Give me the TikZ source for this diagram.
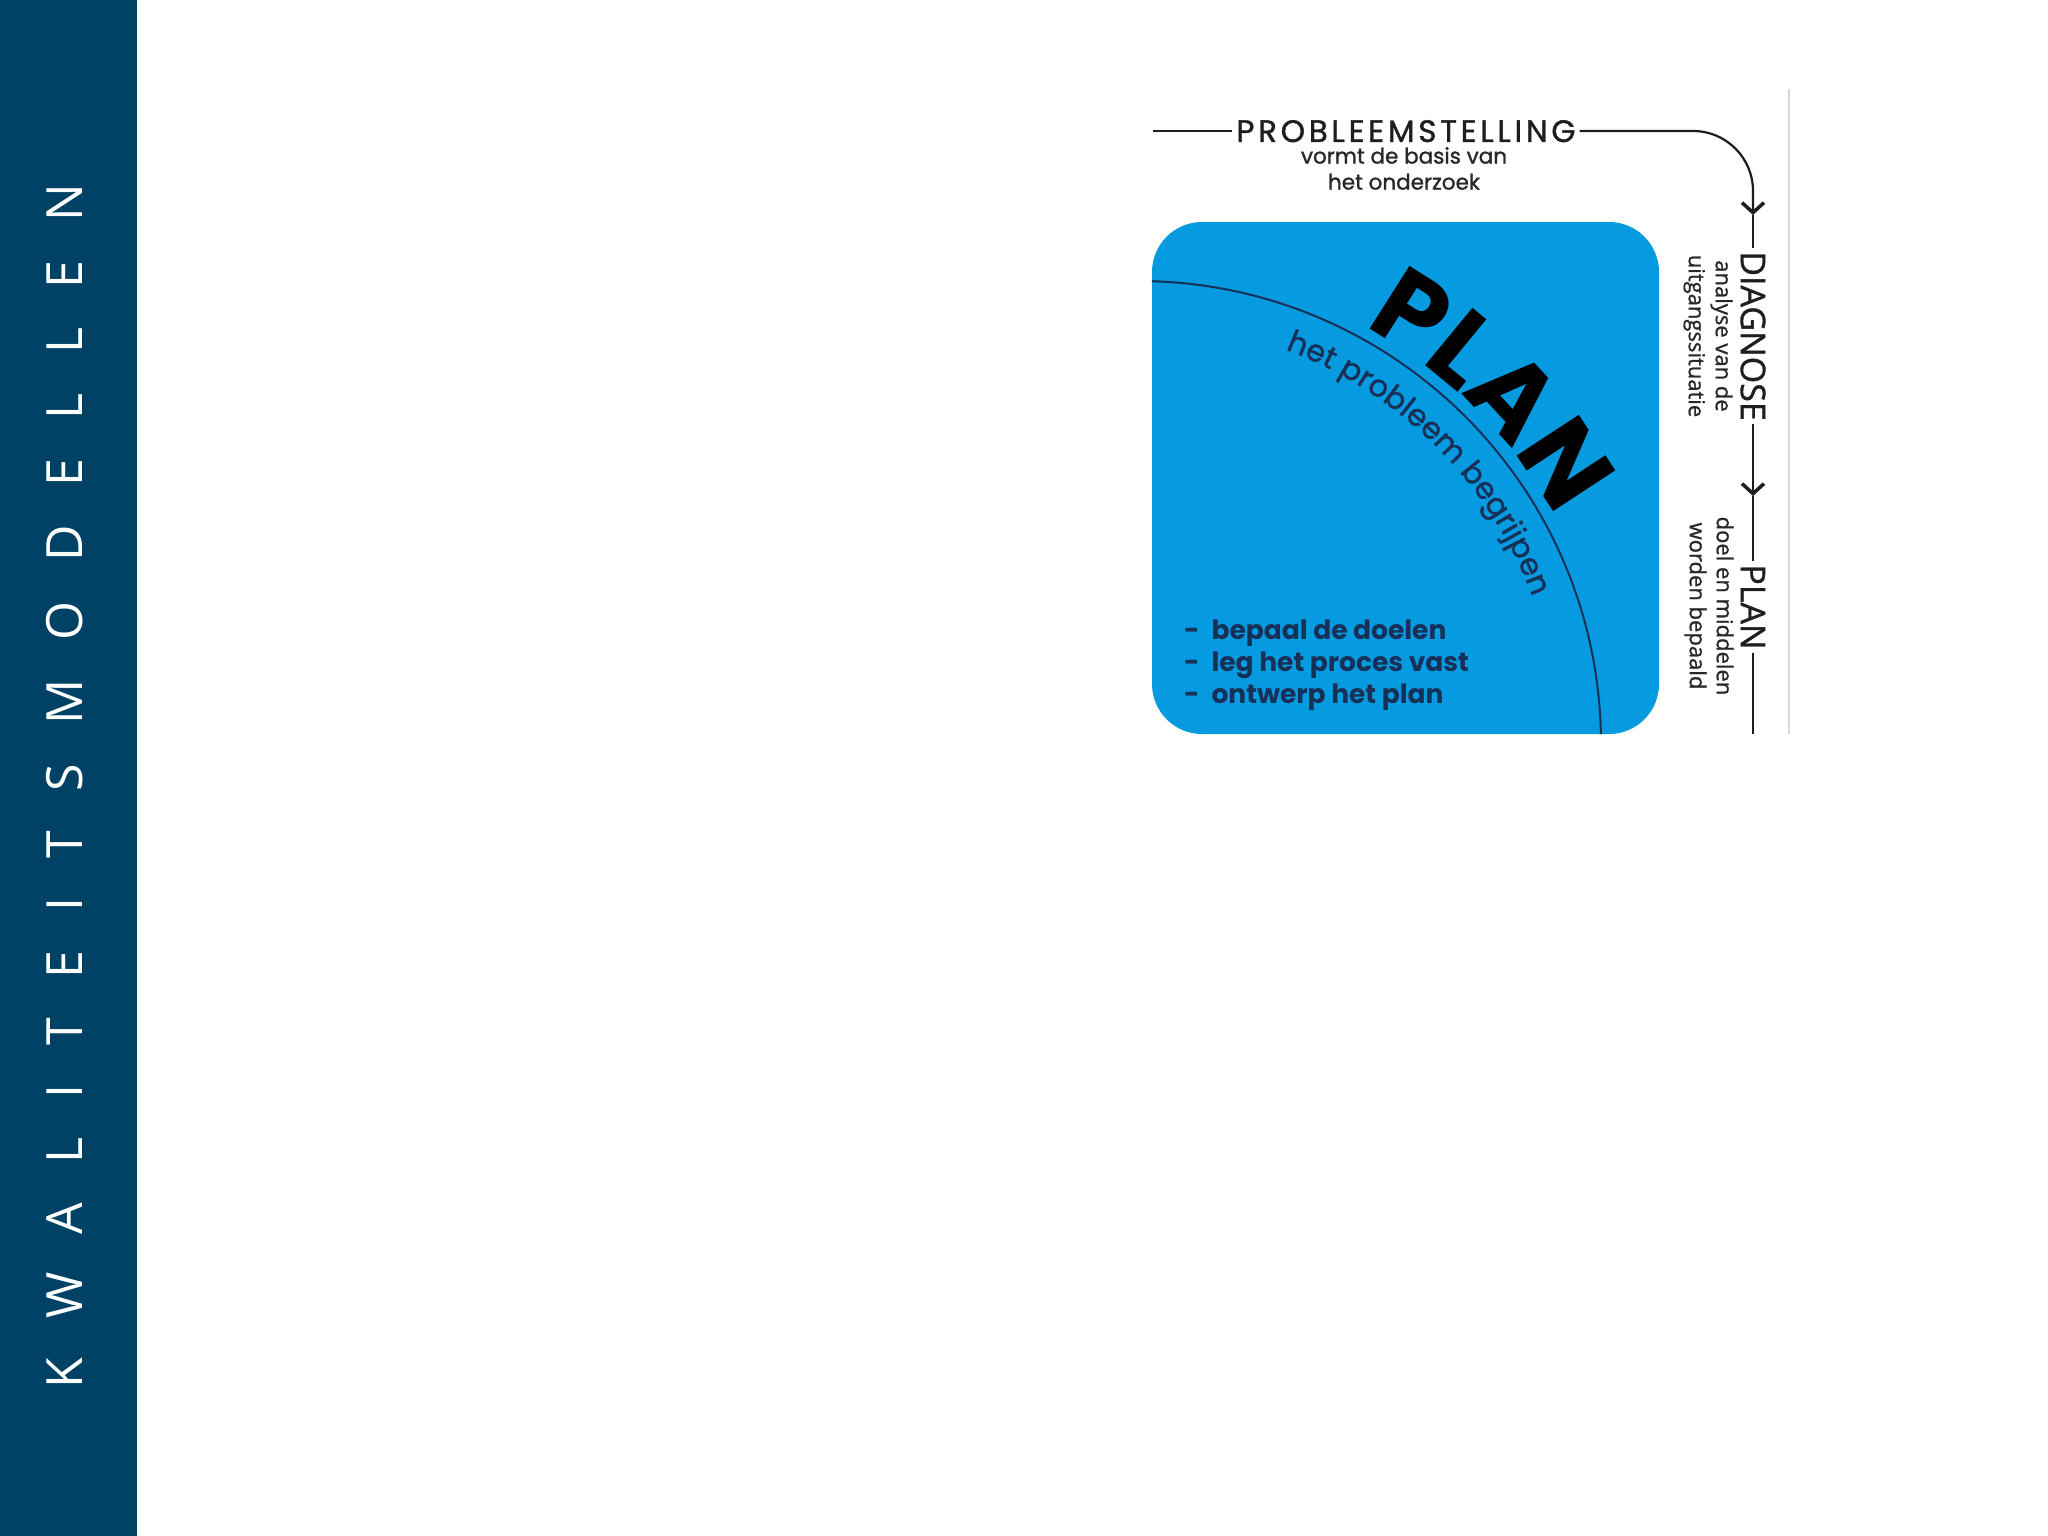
\documentclass[tikz,border=0pt]{standalone}
\usepackage{fontspec}
\setmainfont{Open Sans}
\newfontfamily\pop{Poppins}
\newfontfamily\popm{Poppins}[FakeBold=1.2]
\newfontfamily\osm{Open Sans}[FakeBold=1]
\usetikzlibrary{arrows.meta,decorations.text}
\definecolor{sidebar}{RGB}{0,66,102}
\definecolor{boxblue}{RGB}{6,155,224}
\definecolor{navytxt}{RGB}{22,48,88}
\definecolor{linegray}{RGB}{30,30,30}
\definecolor{subgray}{RGB}{40,40,40}
\definecolor{rulegray}{RGB}{215,215,215}
\begin{document}
\begin{tikzpicture}[x=1pt,y=1pt,
  conn/.style={draw=linegray, line width=2.2pt},
  tipconn/.style={conn, -{Straight Barb[length=10pt,width=22pt,line width=3.5pt]}},
  vlabel/.style={rotate=-90, inner sep=3pt, text=linegray, font=\osm\fontsize{34}{34}\selectfont},
  vsub/.style={rotate=-90, inner sep=0pt, align=center, text=subgray, font=\osm\fontsize{22}{27}\selectfont},
  bullet/.style={anchor=base west, inner sep=0pt, text=navytxt, font=\pop\bfseries\fontsize{26.5}{26.5}\selectfont}]
\useasboundingbox (0,0) rectangle (2048,-1536);
\fill[white] (0,0) rectangle (2048,-1536);
% sidebar
\fill[sidebar] (0,0) rectangle (137,-1536);
\node[rotate=90, text=white, inner sep=0pt, font=\fontsize{50}{50}\selectfont\addfontfeature{LetterSpace=78.5}] (title) at (65,-786) {KWALITEITSMODELLEN};
% blue box
\node[fill=boxblue, rounded corners=50pt, minimum width=507pt, minimum height=512pt, inner sep=0pt] (box) at (1405.5,-478) {};
\begin{scope}
\clip[rounded corners=50pt] (box.north west) rectangle (box.south east);
\draw[navytxt, line width=2pt] (1138,-744) ++(90:463) arc[start angle=90, end angle=0, radius=463];
\end{scope}
\path[decorate, decoration={text along path, text align=center, text color=black,
  text={|\pop\bfseries\fontsize{106}{106}\selectfont|PLAN}}]
  (1138,-744) ++(80:475) arc[start angle=80, end angle=10, radius=475];
\path[decorate, decoration={text along path, text align=center, text color=navytxt,
  text={|\popm\fontsize{30.5}{30.5}\selectfont|het probleem begrijpen}}]
  (1138,-744) ++(80:421) arc[start angle=80, end angle=10, radius=421];
% bullets
\node[bullet] (b1) at (1184,-639) {-\hspace{12pt}bepaal de doelen};
\node[bullet] (b2) at (1184,-671) {-\hspace{12pt}leg het proces vast};
\node[bullet] (b3) at (1184,-703) {-\hspace{12pt}ontwerp het plan};
% top label
\coordinate (start) at (1153,-131);
\node[anchor=base, inner sep=4pt, text=linegray, font=\popm\fontsize{31}{31}\selectfont\addfontfeature{LetterSpace=12}] (prob) at (1406,-142) {PROBLEEMSTELLING};
\node[anchor=north, align=center, inner sep=0pt, text=subgray, font=\popm\fontsize{21.5}{26}\selectfont] (probsub) at (1404,-147) {vormt de basis van\\het onderzoek};
% right labels
\node[vlabel] (diag) at (1753,-336) {DIAGNOSE};
\node[vsub] (diagsub) at (1708,-336) {analyse van de\\uitgangssituatie};
\node[vlabel] (plan2) at (1753,-607) {PLAN};
\node[vsub] (plansub) at (1709,-606) {doel en middelen\\worden bepaald};
% connectors
\draw[conn] (start) -- (start -| prob.west);
\coordinate (tip1) at (1753,-215);
\draw[tipconn, rounded corners=60pt] (start -| prob.east) -| (tip1);
\draw[conn] (tip1) -- (diag.west);
\coordinate (tip2) at (1753,-496);
\draw[tipconn] (diag.east) -- (tip2);
\draw[conn] (tip2) -- (plan2.west);
\coordinate (end) at (1753,-734);
\draw[conn] (plan2.east) -- (end);
% right rule
\draw[rulegray, line width=1.5pt] (1789,-89) -- (1789,-734);
\end{tikzpicture}
\end{document}
